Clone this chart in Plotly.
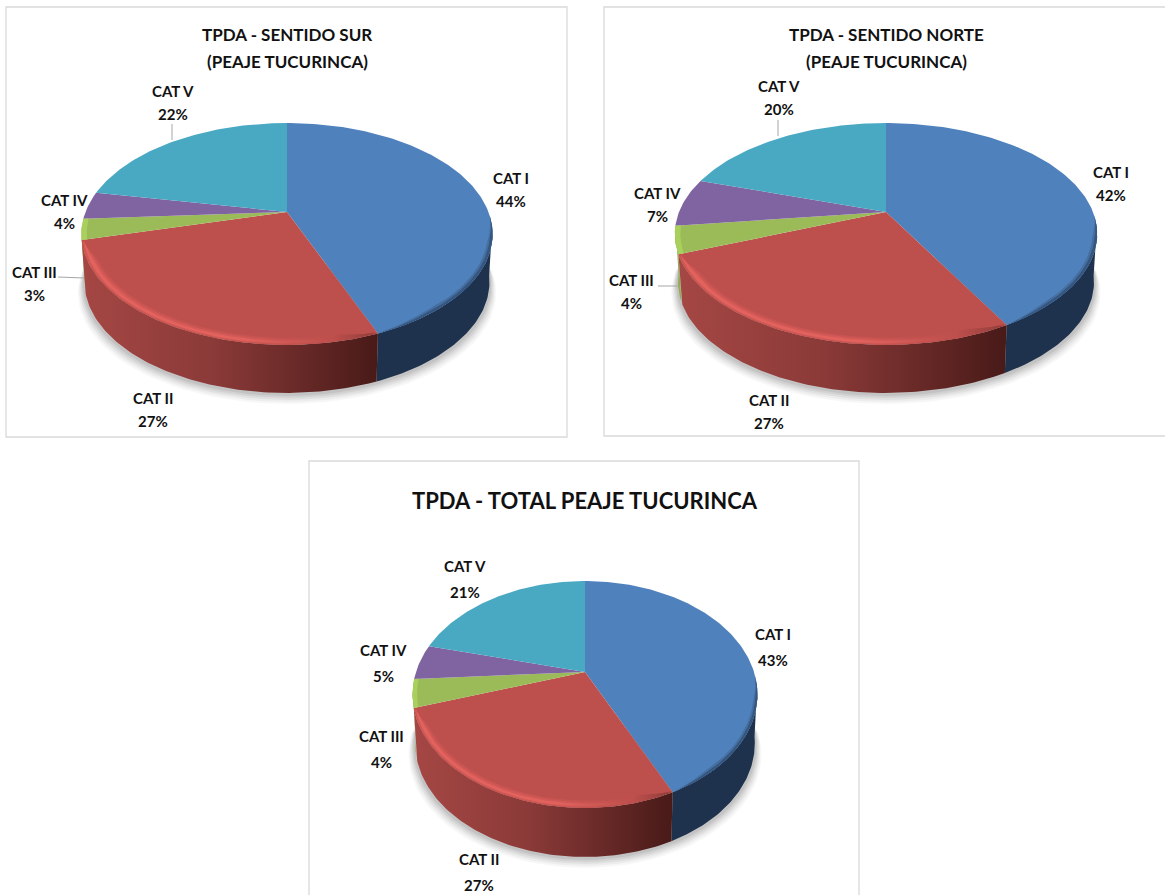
import math
import plotly.graph_objects as go

CATEGORIES = ["CAT I", "CAT II", "CAT III", "CAT IV", "CAT V"]
VALUES_SUR = [44, 27, 3, 4, 22]
VALUES_NORTE = [42, 27, 4, 7, 20]
VALUES_TOTAL = [43, 27, 4, 5, 21]

TOP_COLORS = ["#4f81bd", "#bd4f4c", "#9bbb59", "#8064a2", "#49a9c3"]
WALL_LIGHT = ["#1f324d", "#a54744", "#8fae50", "#5f4a7a", "#2f7f95"]
WALL_DARK = ["#1f324d", "#481a18", "#8fae50", "#5f4a7a", "#2f7f95"]

FONT = "Lato"
INK = "#111111"
FRAME = "#d9d9d9"

CHARTS = [
    dict(values=VALUES_SUR, cx=287, cy=212, rx=201.5, ry=106.6, k=0.198, depth=48,
         frame=(6, 7, 567, 437),
         titles=[("TPDA - SENTIDO SUR", 287, 34), ("(PEAJE TUCURINCA)", 287, 61)], title_size=17,
         label_size=15, line_gap=23,
         labels=[(511, 178), (153, 398), (34, 272), (64, 200), (173, 91)],
         leaders=[(172, 124, 172, 140), (58, 277, 84, 278)]),
    dict(values=VALUES_NORTE, cx=886, cy=212, rx=207, ry=106.6, k=0.198, depth=48,
         frame=(604, 7, 1175, 436),
         titles=[("TPDA - SENTIDO NORTE", 886, 34), ("(PEAJE TUCURINCA)", 886, 61)], title_size=17,
         label_size=15, line_gap=23,
         labels=[(1111, 172), (769, 400), (631, 280), (657, 193), (779, 86)],
         leaders=[(778, 120, 778, 136), (658, 286, 679, 286)]),
    dict(values=VALUES_TOTAL, cx=585, cy=672, rx=169, ry=109, k=0.198, depth=49,
         frame=(309, 461, 859, 905),
         titles=[("TPDA - TOTAL PEAJE TUCURINCA", 585, 500)], title_size=22,
         label_size=15, line_gap=26,
         labels=[(773, 634), (479, 859), (381, 736), (383, 650), (465, 566)],
         leaders=[]),
]


def point(c, theta, r=1.0, low=False):
    t = math.radians(theta)
    u, v = r * math.sin(t), r * math.cos(t)
    s = 1 / (1 + c["k"] * v)
    shrink = 0.985 if low else 1.0
    return (c["cx"] + c["rx"] * shrink * u * s,
            c["cy"] - c["ry"] * v * s + (c["depth"] if low else 0))


def arc(c, a, b, r=1.0, low=False, step=1.0):
    n = max(2, int(abs(b - a) / step) + 1)
    pts = [point(c, a + (b - a) * i / (n - 1), r, low) for i in range(n)]
    return [p[0] for p in pts], [p[1] for p in pts]


def band(c, a, b, r_out, r_in, taper=0.0):
    """Thin rim strip between two radii; taper pulls both ends to the outer radius."""
    n = max(2, int(abs(b - a)) + 1)
    ox, oy, ix, iy = [], [], [], []
    for i in range(n):
        f = i / (n - 1)
        th = a + (b - a) * f
        w = min(1.0, min(f, 1 - f) / taper) if taper else 1.0
        p = point(c, th, r_out)
        q = point(c, th, r_out + (r_in - r_out) * w)
        ox.append(p[0]); oy.append(p[1]); ix.append(q[0]); iy.append(q[1])
    return ox + ix[::-1], oy + iy[::-1]


def poly(x, y, color=None, gradient=None, name=""):
    kw = dict(x=x + x[:1], y=y + y[:1], mode="lines", fill="toself", line=dict(width=0),
              name=name, hoverinfo="name", showlegend=False)
    if gradient:
        kw["fillgradient"] = dict(type="horizontal", colorscale=gradient)
    else:
        kw["fillcolor"] = color
    return go.Scatter(**kw)


fig = go.Figure()
annotations, shapes = [], []

for c in CHARTS:
    total = sum(c["values"])
    edges = [0.0]
    for v in c["values"]:
        edges.append(edges[-1] + 360.0 * v / total)

    # frame and leader lines
    x0, y0, x1, y1 = c["frame"]
    shapes.append(dict(type="rect", x0=x0, y0=y0, x1=x1, y1=y1, layer="below",
                       line=dict(color=FRAME, width=1.3)))
    for lx0, ly0, lx1, ly1 in c["leaders"]:
        shapes.append(dict(type="line", x0=lx0, y0=ly0, x1=lx1, y1=ly1, layer="above",
                           line=dict(color="#a6a6a6", width=1)))

    # soft shadow under the pie
    for grow, alpha in [(11, 0.03), (9, 0.04), (7, 0.05), (5, 0.06), (3, 0.07)]:
        sx, sy = arc(c, 90, 270, low=True, step=3)
        cxm = c["cx"]
        sx = [cxm + (p - cxm) * (1 + grow * 0.6 / c["rx"]) for p in sx]
        sy = [p + grow for p in sy]
        fig.add_trace(poly(sx, sy, color=f"rgba(0,0,0,{alpha})", name="shadow"))

    # side walls
    for i in [0, 2, 1]:
        a, b = max(edges[i], 98.0), min(edges[i + 1], 264.0)
        if b <= a:
            continue
        tx, ty = arc(c, a, b)
        bx, by = arc(c, a, b, low=True)
        x = tx + bx[::-1]
        y = ty + by[::-1]
        if WALL_LIGHT[i] == WALL_DARK[i]:
            fig.add_trace(poly(x, y, color=WALL_DARK[i], name=CATEGORIES[i]))
        else:
            fig.add_trace(poly(x, y, gradient=[[0, WALL_LIGHT[i]], [0.45, "#8a3a38"], [1, WALL_DARK[i]]],
                               name=CATEGORIES[i]))

    # top faces
    for i, cat in enumerate(CATEGORIES):
        ax, ay = arc(c, edges[i], edges[i + 1])
        fig.add_trace(poly([c["cx"]] + ax, [c["cy"]] + ay, color=TOP_COLORS[i], name=cat))

    # bevel along the front rim: blue
    bx, by = band(c, 92, edges[1], 1.0, 0.978, taper=0.2)
    fig.add_trace(poly(bx, by, color="#466f9f", name=CATEGORIES[0]))
    bx, by = band(c, 92, edges[1], 1.0, 0.988, taper=0.2)
    fig.add_trace(poly(bx, by, color="#345680", name=CATEGORIES[0]))
    # bevel along the front rim: red, soft highlight in three layers
    for r_out, r_in, peak in [(1.0, 0.955, "#c75450"), (0.995, 0.965, "#d45956"), (0.99, 0.975, "#e2625e")]:
        bx, by = band(c, edges[1], edges[2], r_out, r_in, taper=0.1)
        fig.add_trace(poly(bx, by, gradient=[[0, peak], [0.55, peak], [0.85, "#bd4f4c"], [1, "#8f3d3a"]],
                           name=CATEGORIES[1]))
    # lighter rim of the green slice
    bx, by = band(c, edges[2], edges[3], 1.0, 0.975)
    fig.add_trace(poly(bx, by, color="#a9cf5c", name=CATEGORIES[2]))

    # titles and labels
    for text, tx, ty in c["titles"]:
        annotations.append(dict(x=tx, y=ty, text=f"<b>{text}</b>", showarrow=False,
                                xanchor="center", yanchor="middle",
                                font=dict(family=FONT, size=c["title_size"], color=INK)))
    for cat, v, (lx, ly) in zip(CATEGORIES, c["values"], c["labels"]):
        annotations.append(dict(x=lx, y=ly, text=f"<b>{cat}</b>", showarrow=False,
                                xanchor="center", yanchor="middle",
                                font=dict(family=FONT, size=c["label_size"], color=INK)))
        annotations.append(dict(x=lx, y=ly + c["line_gap"], text=f"<b>{v}%</b>", showarrow=False,
                                xanchor="center", yanchor="middle",
                                font=dict(family=FONT, size=c["label_size"], color=INK)))

fig.update_layout(
    width=1165, height=895, margin=dict(l=0, r=0, t=0, b=0),
    paper_bgcolor="white", plot_bgcolor="white", showlegend=False,
    xaxis=dict(range=[0, 1165], visible=False, fixedrange=True),
    yaxis=dict(range=[895, 0], visible=False, fixedrange=True),
    annotations=annotations, shapes=shapes,
)
fig.write_html("out.html", config=dict(displayModeBar=False),
               post_script="document.body.style.margin='0';document.body.style.overflow='hidden';")
